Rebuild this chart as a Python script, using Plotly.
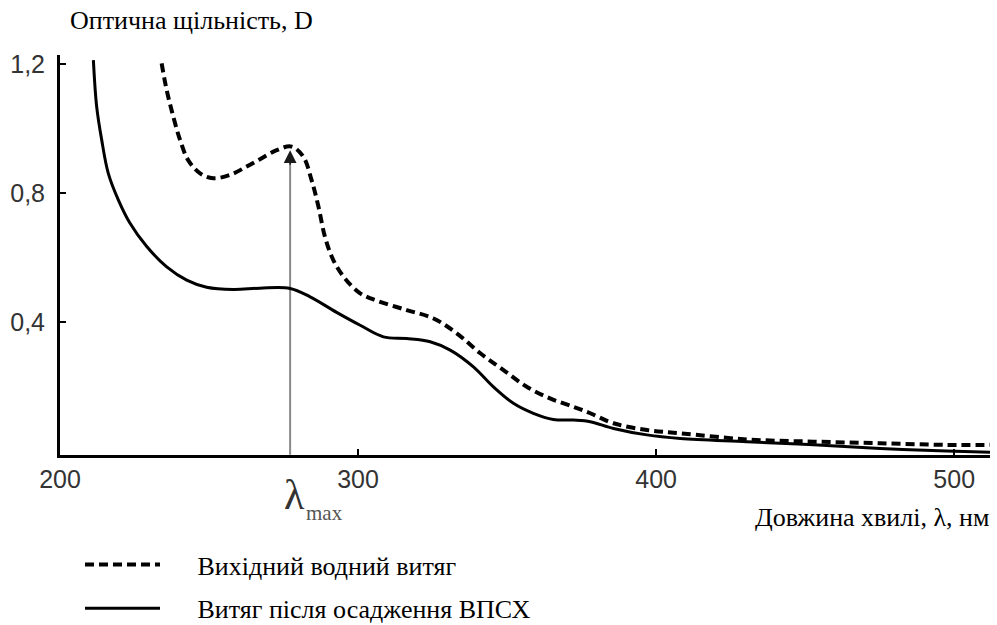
import plotly.graph_objects as go

# Data
lam_solid = [211.2, 212.3, 214.0, 216.2, 219.6, 223.5, 229.1, 235.8, 242.5, 249.2, 258.2, 267.1,
             277.2, 283.9, 292.8, 300.7, 308.5, 316.3, 324.2, 330.9, 338.7, 345.4, 352.1, 358.8,
             365.5, 372.3, 377.9, 385.7, 396.9, 408.1, 430.4, 452.8, 475.2, 497.5, 512]
d_solid = [1.212, 1.068, 0.964, 0.861, 0.778, 0.706, 0.634, 0.571, 0.530, 0.508, 0.501, 0.505,
           0.504, 0.478, 0.430, 0.390, 0.354, 0.349, 0.339, 0.313, 0.261, 0.199, 0.148, 0.117,
           0.098, 0.096, 0.091, 0.070, 0.050, 0.039, 0.029, 0.019, 0.008, 0.0, -0.004]

lam_dash = [234.1, 235.8, 238.0, 240.3, 243.0, 247.0, 251.4, 257.0, 262.6, 267.1, 272.7, 277.7,
            281.6, 284.4, 286.7, 288.9, 291.7, 295.6, 300.7, 306.3, 316.3, 325.3, 333.1, 341.0,
            348.8, 356.6, 364.4, 372.3, 377.9, 385.7, 396.9, 408.1, 430.4, 452.8, 475.2, 497.5, 512]
d_dash = [1.202, 1.119, 1.037, 0.964, 0.902, 0.861, 0.846, 0.856, 0.882, 0.905, 0.933, 0.944,
          0.913, 0.840, 0.758, 0.664, 0.592, 0.535, 0.489, 0.466, 0.437, 0.411, 0.365, 0.303,
          0.251, 0.199, 0.163, 0.137, 0.117, 0.086, 0.065, 0.055, 0.036, 0.029, 0.024, 0.019, 0.019]

x_ticks = [200, 300, 400, 500]
x_ticktext = ["200", "300", "400", "500"]
y_ticks = [0.4, 0.8, 1.2]
y_ticktext = ["0,4", "0,8", "1,2"]

lam_max = 277.2
d_max = 0.933

name_dash = "Вихідний водний витяг"
name_solid = "Витяг після осадження ВПСХ"
y_title = "Оптична щільність, D"
x_title = "Довжина хвилі, λ, нм"

serif = "Liberation Serif, Times New Roman, serif"
sans = "Liberation Sans, Arial, sans-serif"
pad = "\u00a0" * 5

fig = go.Figure()
fig.add_trace(go.Scatter(x=lam_dash, y=d_dash, mode="lines", name=pad + name_dash,
                         line=dict(color="black", width=4, dash="9px,5px",
                                   shape="spline", smoothing=1.0),
                         legendgroup="a"))
fig.add_trace(go.Scatter(x=lam_solid, y=d_solid, mode="lines", name=pad + name_solid,
                         line=dict(color="black", width=3, shape="spline", smoothing=1.0),
                         legendgroup="b"))

# vertical arrow at lambda max
fig.add_shape(type="line", x0=lam_max, x1=lam_max, y0=-0.012, y1=d_max - 0.03,
              line=dict(color="#8a8a8a", width=2), layer="below")
fig.add_annotation(x=lam_max, y=d_max, ax=lam_max, ay=d_max - 0.05,
                   xref="x", yref="y", axref="x", ayref="y",
                   showarrow=True, arrowhead=2, arrowsize=1.7, arrowwidth=1.5,
                   arrowcolor="#1a1a1a", text="", standoff=0)

# lambda_max label (x tied to data, y in paper units below the axis)
fig.add_annotation(x=lam_max, y=-(495 - 455) / 400, xref="x", yref="paper", xshift=4,
                   showarrow=False, text="λ", xanchor="center", yanchor="middle",
                   font=dict(family=serif, size=42, color="#333"))
fig.add_annotation(x=lam_max, y=-(513 - 455) / 400, xref="x", yref="paper", xshift=14,
                   showarrow=False, text="max", xanchor="left", yanchor="middle",
                   font=dict(family=serif, size=21, color="#555"))

# axis titles
fig.add_annotation(x=(68 - 60) / 930, y=(455 - 20) / 400, xref="paper", yref="paper",
                   showarrow=False, text=y_title, xanchor="left", yanchor="middle",
                   font=dict(family=serif, size=26, color="black"))
fig.add_annotation(x=(991 - 60) / 930, y=-(517 - 455) / 400, xref="paper", yref="paper",
                   showarrow=False, text=x_title, xanchor="right", yanchor="middle",
                   font=dict(family=serif, size=26, color="black"))

fig.update_layout(
    width=997, height=625,
    margin=dict(l=60, r=7, t=55, b=170, autoexpand=False),
    paper_bgcolor="white", plot_bgcolor="white",
    showlegend=True,
    legend=dict(x=(80 - 60) / 930, y=-(541 - 455) / 400, xanchor="left", yanchor="top",
                font=dict(family=serif, size=26, color="black"),
                itemwidth=75, tracegroupgap=7, traceorder="grouped",
                bgcolor="rgba(0,0,0,0)"),
    xaxis=dict(range=[200, 512], tickvals=x_ticks, ticktext=x_ticktext,
               showline=True, linecolor="black", linewidth=3, automargin=False,
               ticks="inside", ticklen=6, tickwidth=2, tickcolor="black",
               showgrid=False, zeroline=False,
               tickfont=dict(family=sans, size=25, color="#333")),
    yaxis=dict(range=[-0.0124, 1.228], tickvals=y_ticks, ticktext=y_ticktext,
               showline=True, linecolor="black", linewidth=3, automargin=False,
               ticks="inside", ticklen=6, tickwidth=2, tickcolor="black",
               ticklabelstandoff=7,
               showgrid=False, zeroline=False,
               tickfont=dict(family=sans, size=25, color="#333")),
)

fig.write_html("out.html", config={"displayModeBar": False},
               post_script="document.body.style.margin='0';")
